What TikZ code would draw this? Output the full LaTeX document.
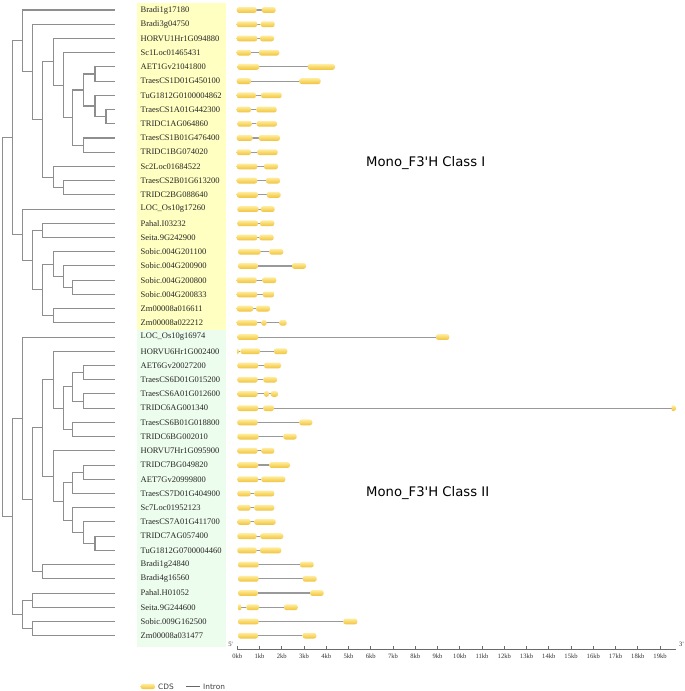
\documentclass[tikz,border=0pt]{standalone}
\usepackage{fontspec}
\setmainfont{Liberation Serif}
\newfontfamily\titlefont{DejaVu Sans}
\newfontfamily\legendfont{DejaVu Sans}
\definecolor{bgone}{HTML}{FFFFC2}
\definecolor{bgtwo}{HTML}{EDFDED}
\definecolor{treegray}{HTML}{8E8E8E}
\definecolor{introngray}{HTML}{999999}
\definecolor{exontop}{HTML}{FFEC9C}
\definecolor{exonbot}{HTML}{F0C23A}
\definecolor{axisgray}{HTML}{6A6A6A}
\tikzset{
  treeline/.style={draw=treegray, line width=1.05pt},
  lbl/.style={anchor=west, inner sep=0pt, font=\fontsize{8.5}{9}\selectfont, text=black!85},
  exonbox/.style={rounded corners=2.4pt, top color=exontop, bottom color=exonbot, draw=none},
  tinyexon/.style={rounded corners=1.2pt, top color=exontop, bottom color=exonbot, draw=none},
  intronline/.style={draw=introngray, line width=1.1pt},
  classlabel/.style={anchor=west, inner sep=0pt, font=\titlefont\fontsize{13.2}{15}\selectfont},
  ticklbl/.style={inner sep=0pt, font=\fontsize{6.6}{7}\selectfont, text=black!80},
  legendtxt/.style={anchor=west, inner sep=0pt, font=\legendfont\fontsize{7.4}{8}\selectfont, text=black!75},
}
\begin{document}
\begin{tikzpicture}[x=1pt, y=-1pt, declare function={ry(\r)=10+14.22*\r;}]
\useasboundingbox (0,0) rectangle (685,691);
\fill[white] (0,0) rectangle (685,691);
% label backgrounds
\fill[bgone] (137,2.5) rectangle (226,330);
\fill[bgtwo] (137,330) rectangle (226,647);
% gene labels
\foreach \i/\t in {0/Bradi1g17180, 1/Bradi3g04750, 2/HORVU1Hr1G094880, 3/Sc1Loc01465431,
  4/AET1Gv21041800, 5/TraesCS1D01G450100, 6/TuG1812G0100004862, 7/TraesCS1A01G442300,
  8/TRIDC1AG064860, 9/TraesCS1B01G476400, 10/TRIDC1BG074020, 11/Sc2Loc01684522,
  12/TraesCS2B01G613200, 13/TRIDC2BG088640, 14/LOC\_Os10g17260, 15/Pahal.I03232,
  16/Seita.9G242900, 17/Sobic.004G201100, 18/Sobic.004G200900, 19/Sobic.004G200800,
  20/Sobic.004G200833, 21/Zm00008a016611, 22/Zm00008a022212, 23/LOC\_Os10g16974,
  24/HORVU6Hr1G002400, 25/AET6Gv20027200, 26/TraesCS6D01G015200, 27/TraesCS6A01G012600,
  28/TRIDC6AG001340, 29/TraesCS6B01G018800, 30/TRIDC6BG002010, 31/HORVU7Hr1G095900,
  32/TRIDC7BG049820, 33/AET7Gv20999800, 34/TraesCS7D01G404900, 35/Sc7Loc01952123,
  36/TraesCS7A01G411700, 37/TRIDC7AG057400, 38/TuG1812G0700004460, 39/Bradi1g24840,
  40/Bradi4g16560, 41/Pahal.H01052, 42/Seita.9G244600, 43/Sobic.009G162500, 44/Zm00008a031477}
  {\node[lbl] (g\i) at (140.5,{ry(\i)}) {\t};}
% tree leaves
\foreach \i in {0,...,44} {\coordinate (l\i) at (115,{ry(\i)});}
% internal nodes, class I
\coordinate (root) at (2.7,{ry(22.298)});
\coordinate (CI) at (12.3,{ry(8.9854)});
\coordinate (A) at (22.3,{ry(2.1738)});
\coordinate (B) at (32.3,{ry(4.3477)});
\coordinate (C) at (42.3,{ry(7.6953)});
\coordinate (P) at (53.3,{ry(3.6406)});
\coordinate (Q) at (63.3,{ry(5.2813)});
\coordinate (W) at (72.7,{ry(7.5625)});
\coordinate (W1) at (83.3,{ry(5.625)});
\coordinate (W1a) at (95,{ry(4.5)});
\coordinate (W1b) at (95,{ry(6.75)});
\coordinate (W1c) at (106,{ry(7.5)});
\coordinate (W2) at (83.3,{ry(9.5)});
\coordinate (S) at (53.3,{ry(11.75)});
\coordinate (S2) at (63.3,{ry(12.5)});
\coordinate (D) at (22.3,{ry(15.797)});
\coordinate (E) at (32.3,{ry(17.5938)});
\coordinate (F) at (42.3,{ry(15.5)});
\coordinate (G) at (42.3,{ry(19.6875)});
\coordinate (H) at (53.3,{ry(17.875)});
\coordinate (H2) at (63.3,{ry(18.75)});
\coordinate (H3) at (72.7,{ry(19.5)});
\coordinate (Z) at (53.3,{ry(21.5)});
% internal nodes, class II
\coordinate (CII) at (12.3,{ry(35.611)});
\coordinate (J) at (22.3,{ry(28.7227)});
\coordinate (N) at (32.3,{ry(34.445)});
\coordinate (O) at (42.3,{ry(29.3906)});
\coordinate (P6) at (53.3,{ry(26)});
\coordinate (R) at (63.3,{ry(28)});
\coordinate (R1) at (72.7,{ry(26.5)});
\coordinate (R1a) at (83.3,{ry(25.5)});
\coordinate (R1b) at (83.3,{ry(27.5)});
\coordinate (R2) at (72.7,{ry(29.5)});
\coordinate (P7) at (53.3,{ry(32.7813)});
\coordinate (X) at (63.3,{ry(34.5625)});
\coordinate (X1) at (72.7,{ry(33.25)});
\coordinate (X1a) at (83.3,{ry(32.5)});
\coordinate (X2) at (72.7,{ry(35.875)});
\coordinate (X3) at (83.3,{ry(36.75)});
\coordinate (X4) at (95,{ry(37.5)});
\coordinate (Br) at (42.3,{ry(39.5)});
\coordinate (K) at (22.3,{ry(42.5)});
\coordinate (L) at (32.3,{ry(41.5)});
\coordinate (M) at (32.3,{ry(43.5)});
% tree edges
\foreach \p/\a/\b in {root/CI/CII, CI/A/D, A/l0/B, B/l1/C, C/P/S, P/l2/Q, Q/l3/W, W/W1/W2,
  W1/W1a/W1b, W1a/l4/l5, W1b/l6/W1c, W1c/l7/l8, W2/l9/l10, S/l11/S2, S2/l12/l13,
  D/l14/E, E/F/G, F/l15/l16, G/H/Z, H/l17/H2, H2/l18/H3, H3/l19/l20, Z/l21/l22,
  CII/J/K, J/l23/N, N/O/Br, O/P6/P7, P6/l24/R, R/R1/R2, R1/R1a/R1b, R1a/l25/l26,
  R1b/l27/l28, R2/l29/l30, P7/l31/X, X/X1/X2, X1/X1a/l34, X1a/l32/l33, X2/l35/X3,
  X3/l36/X4, X4/l37/l38, Br/l39/l40, K/L/M, L/l41/l42, M/l43/l44}
  {\draw[treeline] (\a) -| (\p) |- (\b);}
% gene structures: row / intron end / exons
\foreach \r/\e/\ex in {
  0/263.7/{236.7/256.7,261.7/275.7}, 1/262.7/{236.7/257.3,260.7/274.7},
  2/262/{236.7/257.3,260/274}, 3/261/{236.7/251,259/279.3},
  4/309.7/{237.3/259.3,307.7/335}, 5/301.3/{236.7/251,299.3/320.7},
  6/263/{236.7/256,261/281.7}, 7/258.3/{236.7/251,256.3/276.7},
  8/258.7/{237.3/251.7,256.7/277}, 9/260.7/{236.7/252.7,258.7/280},
  10/259.3/{236.7/251,257.3/277.7}, 11/266/{236.7/257.3,264/278},
  12/268/{236.7/257.3,266/280}, 13/268.7/{236.7/258,266.7/280.7},
  14/262.7/{237.3/258.7,260.7/274.7}, 15/262/{237.3/258,260/274.3},
  16/261.3/{236.7/257.3,259.3/273.7}, 17/271.3/{238/260.7,269.3/283.3},
  18/294/{238/258,292/306}, 19/264.3/{236.7/256.7,262.3/276.3},
  20/264.7/{236.7/257.3,262.7/274.3}, 21/258/{236.7/253.3,256/270},
  22/281.3/{236.7/257.3,261.3/266.7,279.3/286.7}, 23/438/{237.3/258.3,436/449.3},
  24/276/{240.7/260,274/287.3}, 25/266/{237.3/258.3,264/281},
  26/265.3/{237.3/257.7,263.3/277}, 27/272.7/{237.3/257.7,264/269,270.7/278},
  28/673/{237.3/258.3,263.3/274}, 29/301.3/{237.3/257.7,299.3/312.3},
  30/285.3/{237.3/258.7,283.3/296.7}, 31/263.3/{237.3/257.7,261.3/274.3},
  32/271.3/{237.3/258.3,269.3/290}, 33/263.3/{237.3/258.3,261.3/285.3},
  34/256.3/{237.3/250.7,254.3/274.3}, 35/256.3/{237.3/250.7,254.3/274.3},
  36/256.3/{237.3/250.7,254.3/275.7}, 37/262.3/{237.3/256.7,260.3/283.3},
  38/262/{237.3/256.7,260/281.3}, 39/302/{238/258.7,300/313.7},
  40/304.7/{238/258.7,302.7/316.7}, 41/312/{238/258,310/323.7},
  42/286/{246.3/259,284/297.7}, 43/345.3/{238/258.7,343.3/357.3},
  44/304.7/{238/258,302.7/316.3}}
  {\draw[intronline] (238,{ry(\r)}) -- (\e,{ry(\r)});
   \foreach \a/\b in \ex {\path[exonbox] (\a,{ry(\r)-2.9}) rectangle (\b,{ry(\r)+2.9});}}
% tiny exons
\foreach \r/\a/\b in {24/236.8/238.8, 28/671.5/675.3, 42/237.8/241.3}
  {\path[tinyexon] (\a,{ry(\r)-2.9}) rectangle (\b,{ry(\r)+2.9});}
% class labels
\node[classlabel] (c1) at (366,163) {Mono\_F3\textquotesingle H Class I};
\node[classlabel] (c2) at (366,493) {Mono\_F3\textquotesingle H Class II};
% axis
\coordinate (ax0) at (237.3,649);
\coordinate (ax1) at (676,649);
\draw[axisgray, line width=0.8pt] (ax0) -- (ax1);
\foreach \k in {0,...,19} {
  \draw[axisgray, line width=0.7pt] ({237.3+22.25*\k},649) -- ++(0,-2.6);
  \node[ticklbl] (t\k) at ({237.3+22.25*\k},656.5) {\k kb};
}
\node[ticklbl, anchor=east] (five) at (233,644.5) {5\textquotesingle};
\node[ticklbl, anchor=west] (three) at (679,644.5) {3\textquotesingle};
% legend
\path[exonbox] (140.7,683.8) rectangle (155,689.2);
\node[legendtxt] (lcds) at (158,686.5) {CDS};
\coordinate (li0) at (186,686.5);
\coordinate (li1) at (200,686.5);
\draw[intronline, draw=black!60, line width=0.9pt] (li0) -- (li1);
\node[legendtxt] (lint) at (203,686.5) {Intron};
\end{tikzpicture}
\end{document}
